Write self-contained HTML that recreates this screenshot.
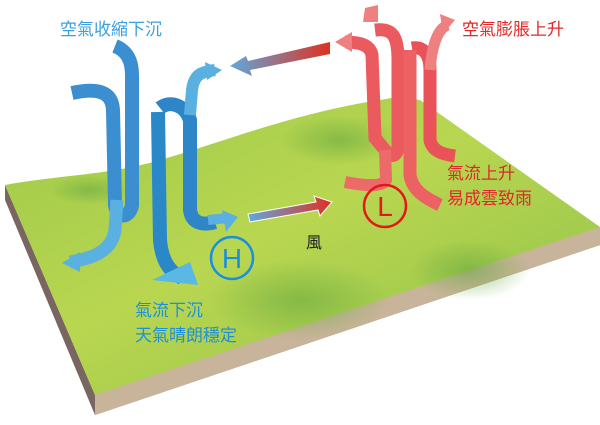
<!DOCTYPE html>
<html><head><meta charset="utf-8"><style>
body{margin:0;background:#fff}
svg{display:block}
text{font-family:"Liberation Sans","Noto Sans CJK TC",sans-serif}
</style></head><body>
<svg width="600" height="425" viewBox="0 0 600 425">
<defs>
<linearGradient id="gr" x1="0" y1="0" x2="1" y2="1">
<stop offset="0" stop-color="#9cc94a"/><stop offset="0.45" stop-color="#b9d650"/><stop offset="1" stop-color="#8dc04a"/></linearGradient>
<linearGradient id="w1" x1="0" y1="0" x2="1" y2="0"><stop offset="0" stop-color="#5fa8dc"/><stop offset="1" stop-color="#e03020"/></linearGradient>
<linearGradient id="w2" x1="0" y1="0" x2="1" y2="0"><stop offset="0" stop-color="#5fa8dc"/><stop offset="1" stop-color="#e03020"/></linearGradient>
<radialGradient id="sh" cx="0.5" cy="0.5" r="0.5"><stop offset="0" stop-color="#6aaa40" stop-opacity="0.6"/><stop offset="1" stop-color="#6aaa40" stop-opacity="0"/></radialGradient>
</defs>
<polygon points="5,185 5,200 95,415 600,245 600,227 95,395" fill="#7a6660"/>
<polygon points="95,395 95,415 600,245 600,227" fill="#c8b49a"/>
<path d="M5,185 C60,175 110,175 160,160 C230,140 300,110 400,97 L420,100 L600,227 L95,395 Z" fill="url(#gr)"/>
<ellipse cx="90" cy="190" rx="40" ry="15" fill="url(#sh)"/>
<ellipse cx="340" cy="140" rx="60" ry="25" fill="url(#sh)"/>
<ellipse cx="300" cy="300" rx="90" ry="40" fill="url(#sh)"/>
<ellipse cx="470" cy="270" rx="60" ry="30" fill="url(#sh)"/>
<g fill="none" stroke-linecap="butt">
<path d="M72,93 C95,88 112,90 113,110 L115,205 C117,220 130,218 132,205 L132,75 C132,58 125,50 115,46" stroke="#3b8fd0" stroke-width="14"/>
<path d="M117,200 L115,230 C112,250 95,258 70,262" stroke="#5ab0e0" stroke-width="13"/>
<polygon points="62,263 80,252 80,272" fill="#5ab0e0"/>
<path d="M160,108 C170,100 185,105 190,120 L190,210 C192,225 205,225 215,222" stroke="#2e86c8" stroke-width="14"/>
<path d="M190,115 L192,90 C194,75 200,72 215,70" stroke="#5ab0e0" stroke-width="12"/>
<polygon points="222,70 205,62 207,80" fill="#5ab0e0"/>
<path d="M208,220 L228,218" stroke="#5ab0e0" stroke-width="10"/>
<polygon points="238,217 222,210 226,232" fill="#5ab0e0"/>
<path d="M158,112 L160,240 C162,262 170,272 182,278" stroke="#2a88c8" stroke-width="14"/>
<polygon points="152,280 198,285 190,262" fill="#5ab8e4"/>
</g>
<g fill="none">
<path d="M375,30 C392,28 398,35 398,60 L398,145 C398,158 390,158 385,150 L375,138 L372,55 C370,45 360,42 345,42" stroke="#ea5a5e" stroke-width="13"/>
<polygon points="335,42 352,32 352,52" fill="#ee8080"/>
<polygon points="365,8 378,5 378,22 363,22" fill="#ee8080"/>
<path d="M385,150 L386,180 C382,188 360,185 345,182" stroke="#ec6a6a" stroke-width="12"/>
<path d="M412,48 C424,46 430,55 430,70 L430,140 C432,150 440,154 455,156" stroke="#e85258" stroke-width="13"/>
<path d="M410,50 L410,175 C412,190 425,198 440,205" stroke="#ec6262" stroke-width="13"/>
<path d="M430,70 C432,45 438,28 448,25" stroke="#ee8080" stroke-width="11"/>
<polygon points="455,20 440,14 443,34" fill="#ee8080"/>
</g>
<polygon points="330,42 330,54 250,70 252,76 230,66 246,56 248,61" fill="url(#w1)"/>
<polygon points="248,214 316,202 314,196 332,202 320,216 318,210 250,222" fill="url(#w2)" stroke="#fff" stroke-width="1"/>
<circle cx="232" cy="258" r="21" fill="none" stroke="#1a8fe0" stroke-width="2.5"/>
<text x="232" y="268" font-size="28" fill="#1a8fe0" text-anchor="middle">H</text>
<circle cx="385" cy="206" r="21" fill="none" stroke="#e01818" stroke-width="2.5"/>
<text x="385" y="216" font-size="28" fill="#e01818" text-anchor="middle">L</text>
<text x="60" y="35" font-size="17" fill="#3aa0e0">空氣收縮下沉</text>
<text x="462" y="35" font-size="17" fill="#e02828">空氣膨脹上升</text>
<text x="447" y="179" font-size="17" fill="#e02828">氣流上升</text>
<text x="447" y="204" font-size="17" fill="#e02828">易成雲致雨</text>
<text x="135" y="316" font-size="17" fill="#1e90d8">氣流下沉</text>
<text x="135" y="341" font-size="17" fill="#1e90d8">天氣晴朗穩定</text>
<text x="306" y="248" font-size="16" fill="#222">風</text>
</svg>
</body></html>
